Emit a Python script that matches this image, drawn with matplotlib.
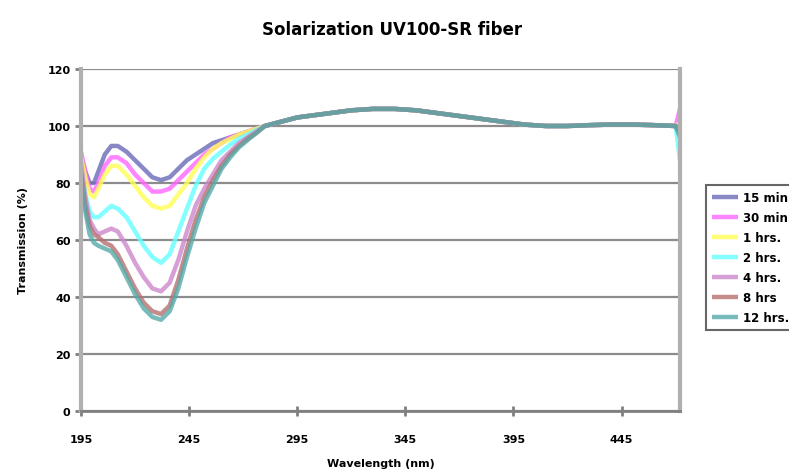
import matplotlib
matplotlib.use("Agg")
import matplotlib.pyplot as plt

# ---- data ----
labels = ["15 min", "30 min", "1 hrs.", "2 hrs.", "4 hrs.", "8 hrs", "12 hrs."]
colors = ["#6B6BB8", "#FF66FF", "#FFFF55", "#66FFFF", "#CC88CC", "#B86F6F", "#55AAAA"]

wl_dip = [195, 197, 199, 201, 203, 206, 209, 212, 216, 220, 224, 228, 232,
          236, 240, 244, 248, 252, 256, 260, 264, 268, 272, 276, 280]
dip_15min = [89, 84, 80, 80, 84, 90, 93, 93, 91, 88, 85, 82, 81, 82, 85, 88, 90, 92, 94, 95, 96, 97, 98, 99, 100]
dip_30min = [91, 84, 78, 77, 80, 86, 89, 89, 87, 83, 80, 77, 77, 78, 81, 84, 87, 90, 92, 94, 96, 97, 98, 99, 100]
dip_1h = [89, 82, 76, 75, 78, 83, 86, 86, 83, 79, 75, 72, 71, 72, 76, 80, 85, 89, 92, 94, 95.5, 97, 98, 99, 100]
dip_2h = [85, 76, 70, 68, 68, 70, 72, 71, 68, 63, 58, 54, 52, 55, 63, 71, 79, 85, 88.5, 91, 93.5, 95.5, 97, 98.5, 100]
dip_4h = [87, 75, 67, 64, 62, 63, 64, 63, 58, 52, 47, 43, 42, 45, 53, 63, 72, 78, 83, 88, 91, 94, 96, 98, 100]
dip_8h = [84, 72, 65, 62, 61, 59, 58, 55, 49, 43, 38, 35, 34, 37, 46, 57, 67, 75, 81, 86, 90, 93, 95.5, 97.5, 100]
dip_12h = [82, 70, 62, 59, 58, 57, 56, 53, 47, 41, 36, 33, 32, 35, 43, 54, 64, 73, 79, 85, 89, 92.5, 95, 97.5, 100]

wl_tail = [285, 290, 295, 300, 310, 320, 330, 340, 350, 360, 370, 380, 390,
           400, 410, 420, 430, 440, 450, 460, 470]
tail = [101, 102, 103, 103.5, 104.5, 105.5, 106, 106, 105.5, 104.5, 103.5, 102.5,
        101.5, 100.5, 100, 100, 100.3, 100.5, 100.5, 100.3, 100]
wl_end = 472
end_vals = [99, 106, 101, 88, 97, 98, 96]

x_ticks = [195, 245, 295, 345, 395, 445]
y_ticks = [0, 20, 40, 60, 80, 100, 120]

dips = [dip_15min, dip_30min, dip_1h, dip_2h, dip_4h, dip_8h, dip_12h]

# ---- figure ----
fig = plt.figure(figsize=(7.89, 4.77), dpi=100)
ax = fig.add_axes([81/789, 1-412/477, (680-81)/789, (412-70)/477])

for lab, col, d, e in zip(labels, colors, dips, end_vals):
    xs = wl_dip + wl_tail + [wl_end]
    ys = d + tail + [e]
    ax.plot(xs, ys, color=col, lw=3.2, alpha=0.8, label=lab, solid_capstyle="butt")

ax.set_xlim(195, 472)
ax.set_ylim(0, 120)
ax.set_xticks(x_ticks)
ax.set_yticks(y_ticks)
ax.yaxis.grid(True, color="#8C8C8C", lw=1.6)
ax.set_axisbelow(True)

ax.spines["top"].set_visible(False)
ax.spines["left"].set_color("#B0B0B0")
ax.spines["left"].set_linewidth(3)
ax.spines["right"].set_color("#B0B0B0")
ax.spines["right"].set_linewidth(3)
ax.spines["bottom"].set_color("#808080")
ax.spines["bottom"].set_linewidth(2)

ax.tick_params(axis="both", colors="#808080", length=4, width=2, direction="out")
ax.tick_params(axis="x", direction="inout", length=7)
for t in ax.get_xticklabels() + ax.get_yticklabels():
    t.set_fontweight("bold")
    t.set_fontsize(8)
    t.set_color("black")
ax.tick_params(axis="x", pad=13)

ax.set_xlabel("Wavelength (nm)", fontsize=8, fontweight="bold", labelpad=10)
ax.set_ylabel("Transmission (%)", fontsize=8, fontweight="bold", labelpad=14)

fig.text(0.497, 1-30/477, "Solarization UV100-SR fiber", ha="center", va="center",
         fontsize=12, fontweight="bold")

leg = fig.legend(loc="upper left", bbox_to_anchor=(700/789, 1-180/477),
                 frameon=True, fancybox=False, handlelength=2.2,
                 handletextpad=0.4, labelspacing=0.6, borderpad=0.5,
                 prop={"weight": "bold", "size": 8.5})
leg.get_frame().set_edgecolor("#404040")
leg.get_frame().set_linewidth(1.5)

fig.savefig("out.png", dpi=100)
